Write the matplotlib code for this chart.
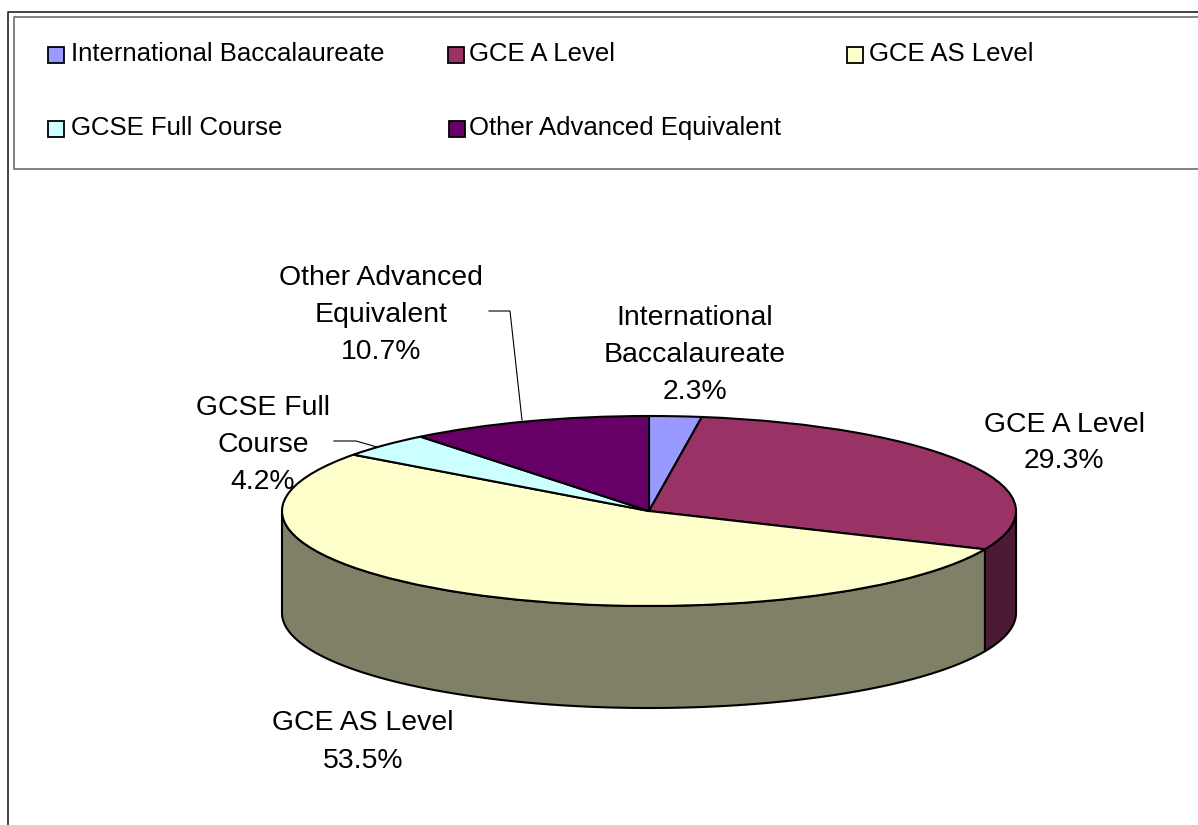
import numpy as np
import matplotlib
matplotlib.use('Agg')
import matplotlib.pyplot as plt
from matplotlib.patches import Rectangle
from matplotlib.transforms import Affine2D

plt.rcParams['font.family'] = ['Liberation Sans', 'DejaVu Sans']

categories = ['International Baccalaureate', 'GCE A Level', 'GCE AS Level',
              'GCSE Full Course', 'Other Advanced Equivalent']
values = [2.3, 29.3, 53.5, 4.2, 10.7]
top_colors = ['#9999FF', '#993366', '#FFFFCC', '#CCFFFF', '#660066']
side_colors = ['#4C4C80', '#4D1A33', '#808066', '#668080', '#330033']
pie_labels = ['International\nBaccalaureate\n2.3%', 'GCE A Level\n29.3%', 'GCE AS Level\n53.5%',
              'GCSE Full\nCourse\n4.2%', 'Other Advanced\nEquivalent\n10.7%']

W, H = 1198, 825
CX, CY, RX, RY, DEPTH = 649, 511, 367, 95, 102

fig = plt.figure(figsize=(W / 100, H / 100), dpi=100, facecolor='white')
px = Affine2D().scale(1 / W, -1 / H).translate(0, 1) + fig.transFigure

# chart and legend frames
fig.add_artist(plt.Line2D([8, 8, W], [H, 11.5, 11.5], color='#222222', lw=1.2, transform=px))
fig.add_artist(plt.Line2D([W, 14, 14, W], [17, 17, 168.5, 168.5], color='#808080', lw=1.4, transform=px))

ax = fig.add_axes([0, 0, 1, 1])
ax.pie(values, colors=top_colors, startangle=90, counterclock=False, radius=1,
       wedgeprops=dict(edgecolor='black', linewidth=1.5, zorder=3))
ax.set_aspect('auto')
ax.set_xlim((0 - CX) / RX, (W - CX) / RX)
ax.set_ylim((CY - H) / RY, CY / RY)
ax.patch.set_alpha(0)

# side wall of the slices on the front half of the disc
d = DEPTH / RY
edges = np.cumsum([0] + values) / sum(values) * 360
for i, col in enumerate(side_colors):
    a0, a1 = max(edges[i], 90), min(edges[i + 1], 270)
    if a1 <= a0:
        continue
    t = np.radians(np.linspace(a0, a1, 200))
    x, y = np.sin(t), np.cos(t)
    ax.fill(np.r_[x, x[::-1]], np.r_[y, y[::-1] - d], facecolor=col,
            edgecolor='black', linewidth=1.5, zorder=2, joinstyle='round')

# legend
key_x = [48, 448, 847, 48, 449]
key_y = [47, 47, 47, 121, 121]
text_x = [71, 469, 869, 71, 469]
for i, name in enumerate(categories):
    fig.add_artist(Rectangle((key_x[i], key_y[i]), 16, 16, facecolor=top_colors[i],
                             edgecolor='black', linewidth=1.3, transform=px))
    fig.text(text_x[i], key_y[i] + 14, name, fontsize=18.5, color='black',
             ha='left', va='baseline', transform=px)

# data labels
lab_x = [695, 1064, 363, 263, 381]
lab_y = [355, 443, 742, 445, 315]
for s, x, y in zip(pie_labels, lab_x, lab_y):
    fig.text(x, y, s, fontsize=20.4, color='black', ha='center', va='center',
             multialignment='center', linespacing=1.55, transform=px)

# leader lines
fig.add_artist(plt.Line2D([489, 510, 522], [311, 311, 420], color='black', lw=0.8, transform=px))
fig.add_artist(plt.Line2D([334, 356, 377], [441, 441, 447], color='black', lw=0.8, transform=px))

fig.savefig('out.png', dpi=100)
